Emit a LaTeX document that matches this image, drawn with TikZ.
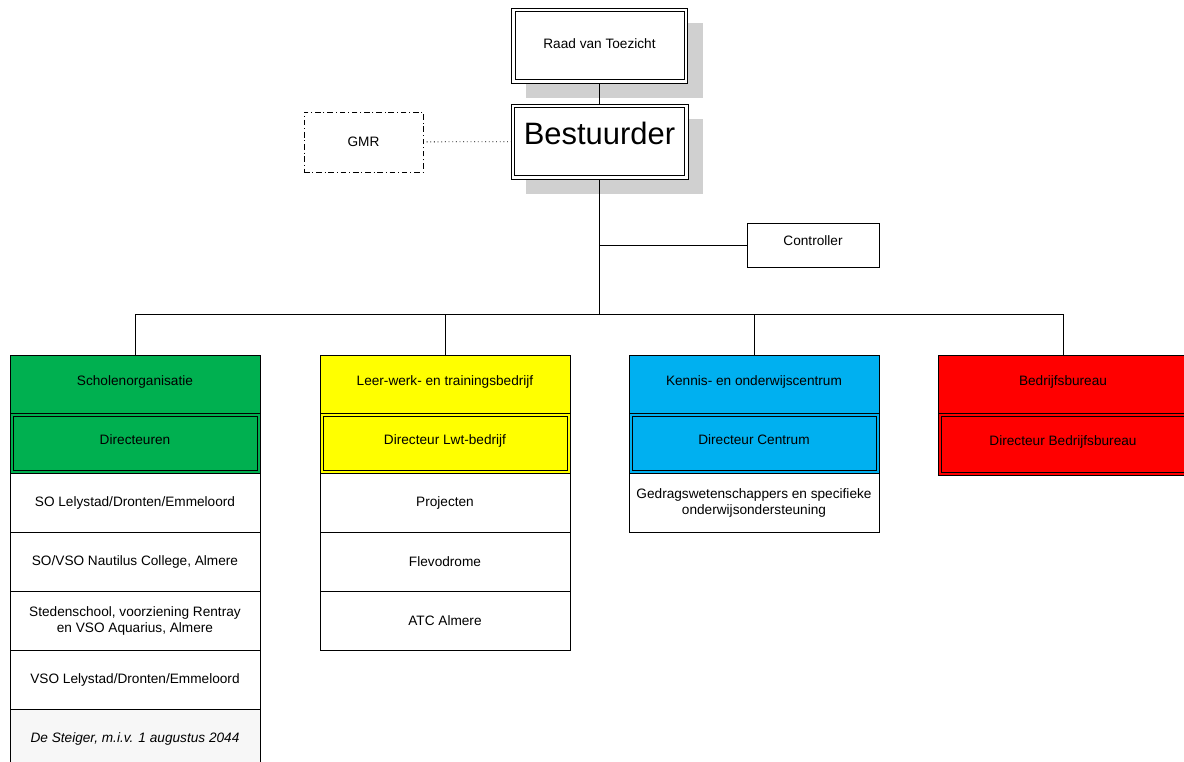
\documentclass[tikz,border=0pt]{standalone}
\usepackage{fontspec}
\setmainfont{Liberation Sans}
\usetikzlibrary{positioning,shadows}

\definecolor{schgreen}{HTML}{00B050}
\definecolor{lwtyellow}{HTML}{FFFF00}
\definecolor{kocblue}{HTML}{00B0F0}
\definecolor{bbred}{HTML}{FF0000}
\definecolor{shadowgray}{HTML}{D0D0D0}

\tikzset{
    box/.style={draw, line width=0.6pt, inner sep=2pt, outer sep=0pt, align=center,
        minimum width=6.25cm, font=\fontsize{9.7}{11.4}\selectfont},
    headbox/.style={box, minimum height=1.45cm, text depth=0.18cm},
    itembox/.style={box, fill=white, minimum height=1.475cm},
    dirbox/.style={box, minimum height=1.5cm, text depth=0.18cm,
        path picture={\draw [line width=0.6pt]
            ([shift={(0.075cm,0.075cm)}]path picture bounding box.south west) rectangle
            ([shift={(-0.075cm,-0.075cm)}]path picture bounding box.north east);}},
    topbox/.style={box, fill=white, minimum width=4.4cm, minimum height=1.875cm,
        general shadow={fill=shadowgray, shadow xshift=0.375cm, shadow yshift=-0.375cm},
        path picture={\draw [line width=0.6pt]
            ([shift={(0.09cm,0.09cm)}]path picture bounding box.south west) rectangle
            ([shift={(-0.09cm,-0.09cm)}]path picture bounding box.north east);}},
    link/.style={line width=0.6pt},
    trunk/.style={line width=0.9pt},
}

\begin{document}
\begin{tikzpicture}[x=0.025cm, y=-0.025cm]
    \useasboundingbox (0, 0) rectangle (1184, 762);

    \node [topbox, text depth=0.1cm] (raad) at (599.5, 45.5) {Raad van Toezicht};
    \node [topbox, minimum width=4.425cm, text depth=0.4cm, font=\fontsize{22}{26}\selectfont] (bestuurder) at (599.5, 141.5) {Bestuurder};
    \node [box, fill=white, dash pattern=on 4pt off 2pt on 0.7pt off 2pt, minimum width=2.975cm, minimum height=1.5cm] (gmr) at (363.5, 142) {GMR};
    \node [box, fill=white, minimum width=3.3cm, minimum height=1.1cm, text depth=0.2cm] (controller) at (813, 245) {Controller};

    \node [headbox, fill=schgreen] (scholen) at (135, 384) {Scholenorganisatie};
    \node [dirbox, fill=schgreen, below=0pt of scholen] (dirscholen) {Directeuren};
    \node [itembox, below=0pt of dirscholen] (so) {SO Lelystad/Dronten/Emmeloord};
    \node [itembox, below=0pt of so] (nautilus) {SO/VSO Nautilus College, Almere};
    \node [itembox, below=0pt of nautilus] (steden) {Stedenschool, voorziening Rentray\\en VSO Aquarius, Almere};
    \node [itembox, below=0pt of steden] (vso) {VSO Lelystad/Dronten/Emmeloord};
    \node [itembox, fill=gray!6, font=\fontsize{9.7}{11.4}\selectfont\itshape, below=0pt of vso] (steiger) {De Steiger, m.i.v. 1 augustus 2044};

    \node [headbox, fill=lwtyellow] (lwt) at (445, 384) {Leer-werk- en trainingsbedrijf};
    \node [dirbox, fill=lwtyellow, below=0pt of lwt] (dirlwt) {Directeur Lwt-bedrijf};
    \node [itembox, below=0pt of dirlwt] (projecten) {Projecten};
    \node [itembox, below=0pt of projecten] (flevodrome) {Flevodrome};
    \node [itembox, below=0pt of flevodrome] (atc) {ATC Almere};

    \node [headbox, fill=kocblue] (koc) at (754, 384) {Kennis- en onderwijscentrum};
    \node [dirbox, fill=kocblue, below=0pt of koc] (dirkoc) {Directeur Centrum};
    \node [itembox, below=0pt of dirkoc] (gedrag) {Gedragswetenschappers en specifieke\\onderwijsondersteuning};

    \node [headbox, fill=bbred] (bureau) at (1063, 384) {Bedrijfsbureau};
    \node [dirbox, fill=bbred, minimum height=1.55cm, below=0pt of bureau] (dirbureau) {Directeur Bedrijfsbureau};

    \coordinate (bus) at (599.5, 314);
    \draw [trunk] (raad) -- (bestuurder);
    \draw [link, dotted] (gmr) -- (bestuurder);
    \draw [trunk] (bestuurder) -- (bus);
    \draw [link] (controller.west) -- (controller.west -| bus);
    \foreach \col in {scholen, lwt, koc, bureau}
        \draw [link] (bus) -| (\col.north);
\end{tikzpicture}
\end{document}
